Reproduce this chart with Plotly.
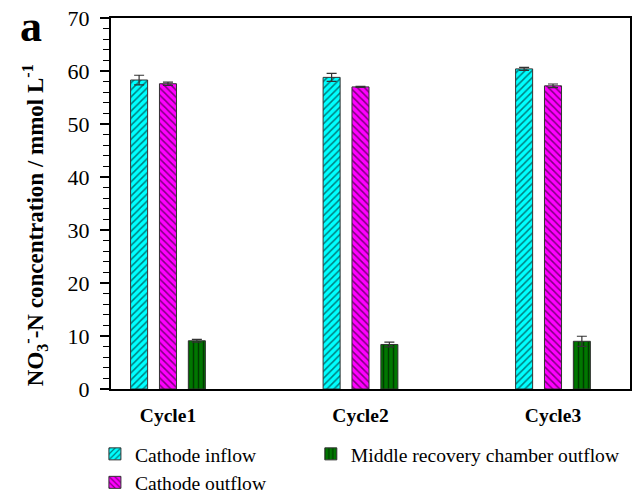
import plotly.graph_objects as go

cycles = ["Cycle1", "Cycle2", "Cycle3"]
inflow = [58.3, 58.8, 60.4]
inflow_err = [0.9, 0.75, 0.3]
outflow = [57.6, 57.0, 57.2]
outflow_err = [0.3, 0.1, 0.35]
middle = [9.1, 8.4, 9.0]
middle_err = [0.25, 0.45, 0.95]
yticks = [0, 10, 20, 30, 40, 50, 60, 70]

FONT = "Liberation Serif, Times New Roman, serif"

def bar(name, vals, errs, color, shape, legend):
    return go.Bar(
        x=cycles, y=vals, name=name, legend=legend,
        marker=dict(color=color, line=dict(color="#333333", width=1),
                    pattern=dict(shape=shape, fgcolor="black", bgcolor=color,
                                 size=5, solidity=0.3, fillmode="overlay")),
        error_y=dict(type="data", array=errs, visible=True, color="#333333",
                     thickness=1.2, width=5),
    )

fig = go.Figure()
fig.add_trace(bar("Cathode inflow", inflow, inflow_err, "#00FFFF", "/", "legend"))
fig.add_trace(bar("Cathode outflow", outflow, outflow_err, "#FF00FF", "\\", "legend"))
fig.add_trace(bar("Middle recovery chamber outflow", middle, middle_err, "#007700", "|", "legend2"))

fig.update_layout(
    width=633, height=494,
    margin=dict(l=111, r=3, t=18, b=105, autoexpand=False),
    plot_bgcolor="white", paper_bgcolor="white",
    barmode="group", bargap=0.55, bargroupgap=0.41,
    font=dict(family=FONT, color="black"),
    showlegend=True,
    legend=dict(x=-0.031, y=-0.123, xanchor="left", yanchor="top",
                orientation="v", font=dict(size=19.6, family=FONT),
                bgcolor="rgba(0,0,0,0)", tracegroupgap=0),
    legend2=dict(x=0.385, y=-0.123, xanchor="left", yanchor="top",
                 orientation="v", font=dict(size=19.6, family=FONT),
                 bgcolor="rgba(0,0,0,0)"),
    xaxis=dict(
        type="category", range=[-0.296, 2.40],
        showline=True, linecolor="black", linewidth=2, mirror=True,
        ticks="", tickfont=dict(size=19.5, family=FONT, weight="bold"),
        ticklabelstandoff=8, showgrid=False,
    ),
    yaxis=dict(
        range=[0, 70], tickvals=yticks,
        showline=True, linecolor="black", linewidth=2, mirror=True,
        ticks="outside", ticklen=9, tickwidth=1.5, tickcolor="black",
        minor=dict(dtick=2, ticks="outside", ticklen=6, tickwidth=1, tickcolor="black"),
        tickfont=dict(size=22, family=FONT), ticklabelstandoff=6,
        showgrid=False, zeroline=False,
    ),
    annotations=[
        dict(text="<b>a</b>", x=-0.18, y=0.976, xref="paper", yref="paper",
             xanchor="left", yanchor="middle", showarrow=False,
             font=dict(size=44, family=FONT)),
        dict(text="<b>NO<sub>3</sub><sup>-</sup>-N concentration / mmol L<sup>-1</sup></b>",
             x=-0.148, y=0.442, xref="paper", yref="paper",
             xanchor="center", yanchor="middle", textangle=-90, showarrow=False,
             font=dict(size=23, family=FONT)),
    ],
)

fig.write_html("out.html")
